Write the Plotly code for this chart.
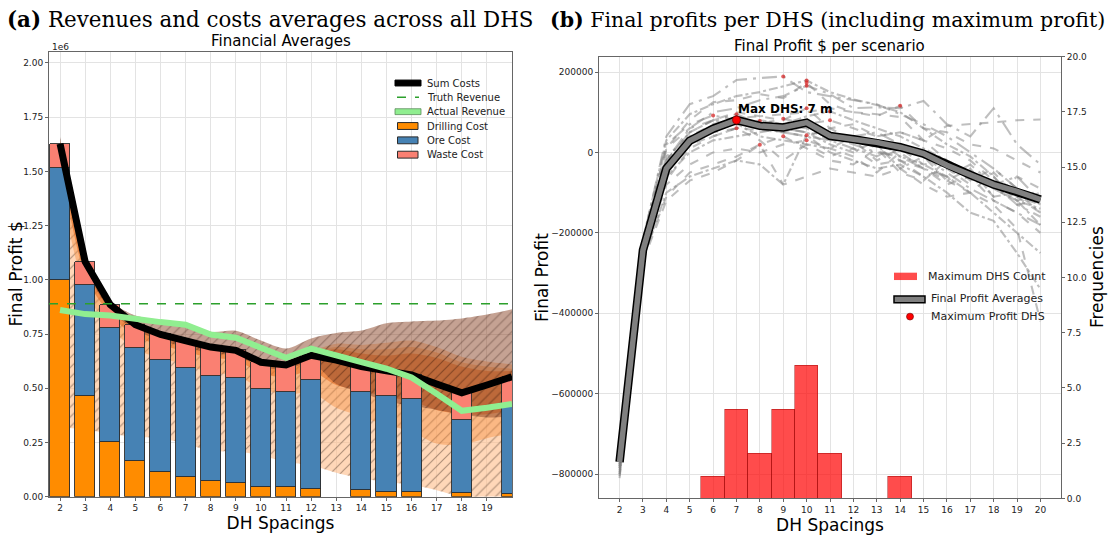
import plotly.graph_objects as go

W, H = 1109, 538

# ---------------- Panel (a) data (values in 1e6 $) ----------------
dhs = list(range(2, 21))
drilling_cost = [1.000, 0.464, 0.252, 0.162, 0.115, 0.092, 0.070, 0.061, 0.044, 0.043, 0.033, None, 0.029, 0.020, 0.020, None, 0.015, None, 0.010]
ore_cost = [0.517, 0.512, 0.525, 0.521, 0.515, 0.500, 0.487, 0.486, 0.450, 0.439, 0.503, None, 0.453, 0.444, 0.430, None, 0.337, None, 0.402]
waste_cost = [0.110, 0.107, 0.108, 0.110, 0.118, 0.126, 0.133, 0.128, 0.126, 0.125, 0.116, None, 0.118, 0.116, 0.112, None, 0.127, None, 0.141]
sum_costs = [1.627, 1.083, 0.885, 0.793, 0.748, 0.718, 0.690, 0.675, 0.620, 0.607, 0.652, 0.630, 0.600, 0.580, 0.562, 0.520, 0.479, 0.515, 0.553]
actual_revenue = [0.861, 0.842, 0.835, 0.818, 0.805, 0.793, 0.748, 0.733, 0.690, 0.640, 0.683, 0.655, 0.620, 0.590, 0.550, 0.475, 0.396, 0.410, 0.428]
truth_revenue = 0.890

cost_outer_lo = [0.32, 0.31, 0.29, 0.275, 0.27, 0.245, 0.21, 0.21, 0.19, 0.16, 0.145, 0.11, 0.085, 0.068, 0.055, 0.03, 0.0, 0.0, 0.0]
cost_outer_hi = [1.64, 1.09, 0.89, 0.80, 0.76, 0.73, 0.70, 0.69, 0.635, 0.62, 0.67, 0.705, 0.70, 0.71, 0.72, 0.69, 0.645, 0.623, 0.61]
cost_mid_lo = [1.45, 0.95, 0.78, 0.68, 0.64, 0.61, 0.57, 0.56, 0.50, 0.47, 0.48, 0.41, 0.37, 0.33, 0.30, 0.245, 0.24, 0.27, 0.29]
cost_mid_hi = [1.635, 1.088, 0.89, 0.80, 0.755, 0.725, 0.70, 0.685, 0.63, 0.615, 0.665, 0.69, 0.68, 0.68, 0.69, 0.665, 0.62, 0.60, 0.59]
cost_in_lo = [1.55, 1.02, 0.84, 0.74, 0.70, 0.67, 0.64, 0.63, 0.57, 0.55, 0.58, 0.515, 0.49, 0.46, 0.44, 0.40, 0.38, 0.38, 0.40]
cost_in_hi = [1.63, 1.086, 0.888, 0.80, 0.755, 0.725, 0.698, 0.683, 0.628, 0.613, 0.66, 0.68, 0.66, 0.65, 0.66, 0.64, 0.60, 0.58, 0.58]
rev_lo = [1.60, 1.06, 0.86, 0.77, 0.72, 0.69, 0.66, 0.65, 0.60, 0.585, 0.62, 0.52, 0.48, 0.44, 0.42, 0.40, 0.38, 0.365, 0.37]
rev_hi = [1.66, 1.10, 0.905, 0.835, 0.815, 0.80, 0.76, 0.765, 0.72, 0.683, 0.73, 0.755, 0.766, 0.80, 0.808, 0.812, 0.822, 0.84, 0.864]

a_xticks = list(range(2, 20))
a_yticks = [0.0, 0.25, 0.5, 0.75, 1.0, 1.25, 1.5, 1.75, 2.0]
a_xrange = [1.56, 20.0]
a_yrange = [0.0, 2.05]

# ---------------- Panel (b) data (values in thousand $) ----------------
avg_profit_k = [-770, -243, -40, 29, 59, 80.5, 66, 62, 74, 41, 33, 25, 13, -3, -32, -56, -80, -97, -117]
scen_01 = [-785, -215, 30, 95, 120, 140, 150, 165, 179, 150, 132, 118, 100, 60, 20, -10, -60, -120, -180]
scen_02 = [-770, -230, 10, 80, 125, 130, 145, 135, 173, 120, 100, 95, 88, 30, -20, -50, -110, -60, -90]
scen_03 = [-800, -250, -20, 60, 100, 110, 130, 140, 166, 145, 110, 112, 110, 128, 70, 40, 110, 20, -30]
scen_04 = [-760, -240, -30, 40, 70, 85, 90, 80, 110, 60, 70, 40, 50, 30, 66, 70, 75, 80, 82]
scen_05 = [-810, -265, -100, -60, -40, -20, -30, -80, 43, 0, -20, -40, -30, -60, -100, -150, -170, -250, -340]
scen_06 = [-795, -255, -80, -30, 0, 10, 0, 20, 30, 10, -10, -50, 0, -40, -80, -60, -120, -150, -200]
scen_07 = [-775, -220, 40, 120, 140, 180, 185, 189, 150, 140, 130, 120, 95, 70, 40, 0, -40, -90, -130]
scen_08 = [-780, -245, -50, 20, 40, 60, 70, 84, 70, 30, 40, 10, -20, -40, -70, -100, -50, -110, -150]
scen_09 = [-765, -235, -60, 0, 30, 40, 50, 60, 50, 20, 0, 30, -10, -30, -60, -100, -150, -200, -250]
scen_10 = [-790, -260, -110, -50, -30, -10, 20, 40, 10, -20, -30, 10, -50, -70, -20, -60, -90, -120, -100]
scen_11 = [-770, -240, -20, 50, 80, 95, 70, 60, 50, 40, 20, 0, -10, -40, -60, -30, -80, -130, -160]
scen_12 = [-780, -250, -40, 30, 60, 85, 60, 50, 40, 60, 30, -20, 10, -30, -20, -70, -40, -90, -110]
scen_13 = [-760, -235, -30, 20, 55, 72, 40, 30, 20, 10, 40, 20, -40, -10, -70, -40, -110, -100, -150]
scen_14 = [-800, -245, -70, 10, 40, 60, 30, -20, 20, -10, 10, -30, -20, -60, -40, -80, -60, -130, -120]
scen_15 = [-775, -230, -10, 40, 60, 70, 78, 65, 60, 30, 40, 50, 20, 0, -30, -50, -80, -60, -120]
scen_16 = [-805, -270, -120, -70, -50, -20, 19, -80, -60, -40, -50, -60, -40, -80, -110, -100, -130, -190, -420]
scen_17 = [-770, -230, -20, 50, 80, 70, 80, 70, 90, 102, 80, 60, 40, 10, -20, -50, -90, -120, -140]
scen_18 = [-785, -240, -40, 20, 50, 60, 55, 50, 70, 80, 60, 40, 50, 30, 10, -20, -70, -110, -130]
scen_19 = [-770, -230, 20, 70, 92, 80, 60, 50, 40, 30, 10, -10, 20, -10, -50, -90, -120, -150, -180]
scen_20 = [-765, -225, 10, 60, 80, 100, 90, 95, 100, 110, 100, 90, 116, 60, 50, 20, 10, -20, -50]
scenarios = [scen_01, scen_02, scen_03, scen_04, scen_05, scen_06, scen_07, scen_08, scen_09, scen_10,
             scen_11, scen_12, scen_13, scen_14, scen_15, scen_16, scen_17, scen_18, scen_19, scen_20]

b_xticks = list(range(2, 21))
b_yticks = [-800000, -600000, -400000, -200000, 0, 200000]
b_y2ticks = [0.0, 2.5, 5.0, 7.5, 10.0, 12.5, 15.0, 17.5, 20.0]
b_xrange = [1.12, 20.88]
b_yrange = [-860200, 238000]
b_y2range = [0, 20]

# ---------------- layout helpers ----------------
def fx(p):
    return p / W

def fy(p):
    return 1 - p / H

A_DOM_X = [fx(49), fx(512)]
A_DOM_Y = [fy(501), fy(48)]
B_DOM_X = [fx(599), fx(1061)]
B_DOM_Y = [fy(502.7), fy(52.7)]

FONT = "DejaVu Sans"
fig = go.Figure()

# ---- bands (base subplot x/y, below bars) ----
def band(lo, hi, color, pattern=None):
    fig.add_trace(go.Scatter(x=dhs, y=lo, mode="lines", line=dict(width=0, shape="spline", smoothing=0.8),
                             showlegend=False, hoverinfo="skip", xaxis="x", yaxis="y"))
    kw = dict(x=dhs, y=hi, mode="lines", fill="tonexty", fillcolor=color,
              line=dict(width=0, shape="spline", smoothing=0.8),
              showlegend=False, hoverinfo="skip", xaxis="x", yaxis="y")
    if pattern:
        kw["fillpattern"] = dict(shape="/", bgcolor=color, fgcolor=pattern, size=7, solidity=0.16)
    fig.add_trace(go.Scatter(**kw))

band(cost_outer_lo, cost_outer_hi, "rgba(255,190,140,0.62)", "rgba(50,30,20,0.8)")
band(cost_mid_lo, cost_mid_hi, "rgba(245,140,60,0.42)")
band(cost_in_lo, cost_in_hi, "rgba(225,95,15,0.48)")
band(rev_lo, rev_hi, "rgba(140,70,40,0.5)", "rgba(50,25,15,0.7)")

# ---- bars + lines on overlay subplot x3/y3 ----
C_DRILL, C_ORE, C_WASTE = "#ff8c00", "#4682b4", "#fa8072"
C_SUM, C_TRUTH, C_ACT = "black", "#2ca02c", "#90ee90"
bar_line = dict(color="#2b2b2b", width=0.9)
fig.add_trace(go.Bar(x=dhs, y=drilling_cost, width=0.8, marker=dict(color=C_DRILL, line=bar_line),
                     name="Drilling Cost", showlegend=False, xaxis="x3", yaxis="y3"))
fig.add_trace(go.Bar(x=dhs, y=ore_cost, width=0.8, marker=dict(color=C_ORE, line=bar_line),
                     name="Ore Cost", showlegend=False, xaxis="x3", yaxis="y3"))
fig.add_trace(go.Bar(x=dhs, y=waste_cost, width=0.8, marker=dict(color=C_WASTE, line=bar_line),
                     name="Waste Cost", showlegend=False, xaxis="x3", yaxis="y3"))
fig.add_trace(go.Scatter(x=dhs, y=sum_costs, mode="lines", line=dict(color=C_SUM, width=7),
                         name="Sum Costs", showlegend=False, xaxis="x3", yaxis="y3"))
fig.add_trace(go.Scatter(x=a_xrange, y=[truth_revenue, truth_revenue], mode="lines",
                         line=dict(color=C_TRUTH, width=1.5, dash="dash"),
                         name="Truth Revenue", showlegend=False, xaxis="x3", yaxis="y3"))
fig.add_trace(go.Scatter(x=dhs, y=actual_revenue, mode="lines", line=dict(color=C_ACT, width=6),
                         name="Actual Revenue", showlegend=False, xaxis="x3", yaxis="y3"))

# ---- panel (b) ----
dashes = ["dashdot", "dash", "longdashdot", "dash"]
for i, s in enumerate(scenarios):
    fig.add_trace(go.Scatter(x=dhs, y=[v * 1000 for v in s], mode="lines",
                             line=dict(color="rgba(128,128,128,0.5)", width=2.1, dash=dashes[i % 4]),
                             showlegend=False, hoverinfo="skip", xaxis="x2", yaxis="y2"))

max_x, max_y = [], []
for s in scenarios:
    m = max(s)
    max_x.append(dhs[s.index(m)])
    max_y.append(m * 1000)
fig.add_trace(go.Scatter(x=max_x, y=max_y, mode="markers",
                         marker=dict(color="rgba(215,40,40,0.75)", size=4),
                         showlegend=False, xaxis="x2", yaxis="y2"))

avg_y = [v * 1000 for v in avg_profit_k]
fig.add_trace(go.Scatter(x=dhs, y=avg_y, mode="lines", line=dict(color="black", width=8.5),
                         showlegend=False, xaxis="x2", yaxis="y2"))
fig.add_trace(go.Scatter(x=dhs, y=avg_y, mode="lines", line=dict(color="#808080", width=5.5),
                         name="Final Profit Averages", showlegend=False, xaxis="x2", yaxis="y2"))
best = max(avg_y)
best_x = dhs[avg_y.index(best)]
fig.add_trace(go.Scatter(x=[best_x], y=[best], mode="markers",
                         marker=dict(color="red", size=8, line=dict(color="rgba(120,0,0,0.8)", width=0.8)),
                         name="Maximum Profit DHS", showlegend=False, xaxis="x2", yaxis="y2"))

hist_x = sorted(set(max_x))
hist_c = [max_x.count(v) for v in hist_x]
fig.add_trace(go.Bar(x=hist_x, y=hist_c, width=1.0,
                     marker=dict(color="rgba(255,0,0,0.7)", line=dict(color="rgba(150,0,0,0.45)", width=1)),
                     name="Maximum DHS Count", showlegend=False, xaxis="x2", yaxis="y4"))

# ---------------- axes ----------------
axis_common = dict(showline=True, mirror=True, linecolor="#666", linewidth=1,
                   gridcolor="#e3e3e3", gridwidth=1, zeroline=False,
                   ticks="outside", ticklen=3, tickcolor="#666",
                   tickfont=dict(family=FONT, size=9, color="#222"),
                   title_font=dict(family=FONT, size=17, color="black"))

fig.update_layout(
    width=W, height=H, margin=dict(l=0, r=0, t=0, b=0),
    plot_bgcolor="white", paper_bgcolor="white",
    barmode="stack", bargap=0, showlegend=False,
    font=dict(family=FONT, color="black"),
    xaxis=dict(domain=A_DOM_X, range=a_xrange, tickmode="array", tickvals=a_xticks, anchor="y",
               title=dict(text="DH Spacings", standoff=4), **axis_common),
    yaxis=dict(domain=A_DOM_Y, range=a_yrange, tickmode="array", tickvals=a_yticks, tickformat=".2f",
               anchor="x", **axis_common),
    xaxis3=dict(overlaying="x", range=a_xrange, anchor="y3", visible=False),
    yaxis3=dict(overlaying="y", range=a_yrange, anchor="x3", visible=False),
    xaxis2=dict(domain=B_DOM_X, range=b_xrange, tickmode="array", tickvals=b_xticks, anchor="y2",
                title=dict(text="DH Spacings", standoff=4), **axis_common),
    yaxis2=dict(domain=B_DOM_Y, range=b_yrange, tickmode="array", tickvals=b_yticks, tickformat="d",
                anchor="x2", **axis_common),
    yaxis4=dict(overlaying="y2", side="right", anchor="x2", range=b_y2range, tickmode="array",
                tickvals=b_y2ticks, tickformat=".1f", showgrid=False, showline=False, zeroline=False,
                ticks="outside", ticklen=3, tickcolor="#666",
                tickfont=dict(family=FONT, size=9, color="#222")),
)

annotations = [
    dict(text="<b>(a)</b> Revenues and costs averages across all DHS", x=fx(5), y=fy(15),
         xanchor="left", yanchor="middle", showarrow=False,
         font=dict(family="DejaVu Serif", size=21.4, color="black")),
    dict(text="<b>(b)</b> Final profits per DHS (including maximum profit)", x=fx(548), y=fy(15),
         xanchor="left", yanchor="middle", showarrow=False,
         font=dict(family="DejaVu Serif", size=20.5, color="black")),
    dict(text="Financial Averages", x=(A_DOM_X[0] + A_DOM_X[1]) / 2, y=fy(37),
         xanchor="center", yanchor="middle", showarrow=False, font=dict(family=FONT, size=15)),
    dict(text="Final Profit $ per scenario", x=(B_DOM_X[0] + B_DOM_X[1]) / 2, y=fy(42),
         xanchor="center", yanchor="middle", showarrow=False, font=dict(family=FONT, size=15)),
    dict(text="1e6", x=fx(50), y=fy(43), xanchor="left", yanchor="middle", showarrow=False,
         font=dict(family=FONT, size=9, color="#222")),
    dict(text="Final Profit $", x=fx(16), y=(A_DOM_Y[0] + A_DOM_Y[1]) / 2, textangle=-90,
         xanchor="center", yanchor="middle", showarrow=False, font=dict(family=FONT, size=17)),
    dict(text="Final Profit", x=fx(541.5), y=(B_DOM_Y[0] + B_DOM_Y[1]) / 2, textangle=-90,
         xanchor="center", yanchor="middle", showarrow=False, font=dict(family=FONT, size=17)),
    dict(text="Frequencies", x=fx(1096.5), y=(B_DOM_Y[0] + B_DOM_Y[1]) / 2, textangle=-90,
         xanchor="center", yanchor="middle", showarrow=False, font=dict(family=FONT, size=17)),
    dict(text="<b>Max DHS: %d m</b>" % best_x, x=best_x, y=best, xref="x2", yref="y2",
         xanchor="left", yanchor="bottom", yshift=2, showarrow=False,
         font=dict(family=FONT, size=12, color="black")),
]

# ---------------- hand-placed legends (paper pixel positions) ----------------
shapes = []

def leg_text(label, x, y, size):
    annotations.append(dict(text=label, x=fx(x), y=fy(y), xanchor="left", yanchor="middle",
                            showarrow=False, font=dict(family=FONT, size=size, color="#222")))

def leg_line(x0, x1, y, color, width, dash="solid"):
    shapes.append(dict(type="line", xref="paper", yref="paper", x0=fx(x0), x1=fx(x1), y0=fy(y), y1=fy(y),
                       line=dict(color=color, width=width, dash=dash)))

def leg_rect(x0, x1, y, h, color, edge):
    shapes.append(dict(type="rect", xref="paper", yref="paper", x0=fx(x0), x1=fx(x1),
                       y0=fy(y + h / 2), y1=fy(y - h / 2), fillcolor=color, line=dict(color=edge, width=1)))

left_items = [("Sum Costs", "sum"), ("Truth Revenue", "truth"), ("Actual Revenue", "act"),
              ("Drilling Cost", C_DRILL), ("Ore Cost", C_ORE), ("Waste Cost", C_WASTE)]
y0, dy = 79.5, 14.6
for k, (label, kind) in enumerate(left_items):
    yy = y0 + k * dy
    if kind == "sum":
        shapes.append(dict(type="rect", xref="paper", yref="paper", x0=fx(395), x1=fx(421),
                           y0=fy(yy + 3), y1=fy(yy - 3), fillcolor=C_SUM, line=dict(color=C_SUM, width=1)))
    elif kind == "truth":
        leg_line(397, 419, yy, C_TRUTH, 1.5, "dash")
    elif kind == "act":
        shapes.append(dict(type="rect", xref="paper", yref="paper", x0=fx(395), x1=fx(421),
                           y0=fy(yy + 3), y1=fy(yy - 3), fillcolor=C_ACT, line=dict(color="#5a8a5a", width=0.8)))
    else:
        leg_rect(397.5, 418, yy, 7, kind, "#2b2b2b")
    leg_text(label, 425, yy, 10)

# right legends
leg_rect(894, 917, 276.5, 7.5, "rgba(255,0,0,0.7)", "rgba(255,0,0,0)")
leg_text("Maximum DHS Count", 926, 276.5, 11)
shapes.append(dict(type="rect", xref="paper", yref="paper", x0=fx(894), x1=fx(925),
                   y0=fy(300 + 3.5), y1=fy(300 - 3.5), fillcolor="#808080", line=dict(color="black", width=1.5)))
leg_text("Final Profit Averages", 929, 299.5, 11)
shapes.append(dict(type="circle", xref="paper", yref="paper", x0=fx(906.5), x1=fx(913.5),
                   y0=fy(317.5 + 3.5), y1=fy(317.5 - 3.5), fillcolor="red", line=dict(color="rgba(120,0,0,0.8)", width=0.8)))
leg_text("Maximum Profit DHS", 929, 317, 11)

for a in annotations:
    a.setdefault("xref", "paper")
    a.setdefault("yref", "paper")
fig.update_layout(annotations=annotations, shapes=shapes)

fig.write_html("out.html")
